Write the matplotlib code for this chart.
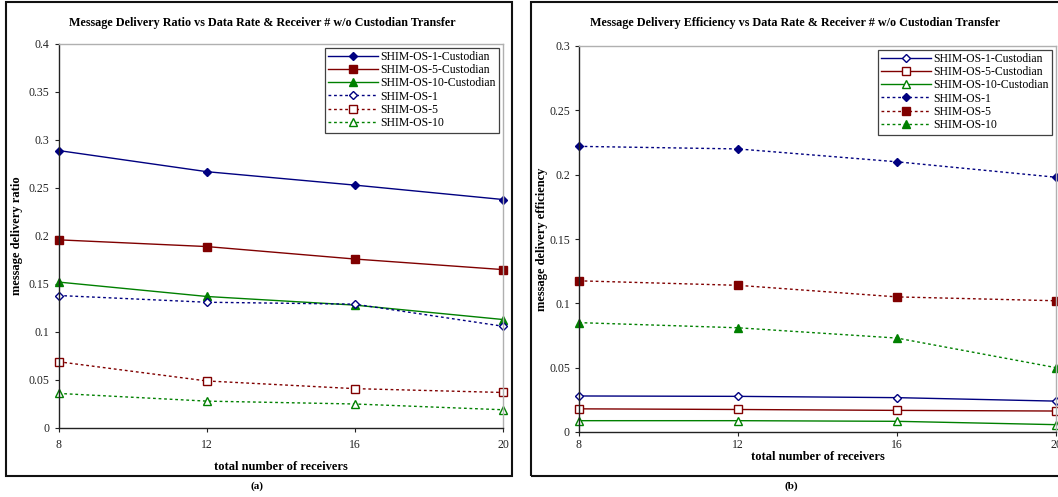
#!/usr/bin/env python3
"""Message delivery ratio / efficiency vs number of receivers (two panels)."""

import matplotlib

matplotlib.use("Agg")
import matplotlib.pyplot as plt
from matplotlib.patches import Rectangle

plt.rcParams["font.family"] = ["Liberation Serif", "DejaVu Serif"]

receivers = [8, 12, 16, 20]

# panel (a): delivery ratio
ratio_os1_cust = [0.289, 0.267, 0.253, 0.238]
ratio_os5_cust = [0.196, 0.189, 0.176, 0.165]
ratio_os10_cust = [0.152, 0.137, 0.128, 0.113]
ratio_os1 = [0.138, 0.131, 0.129, 0.106]
ratio_os5 = [0.069, 0.049, 0.041, 0.037]
ratio_os10 = [0.036, 0.028, 0.025, 0.019]

# panel (b): delivery efficiency
eff_os1_cust = [0.028, 0.0277, 0.0267, 0.024]
eff_os5_cust = [0.018, 0.0175, 0.0168, 0.0163]
eff_os10_cust = [0.0088, 0.0088, 0.0083, 0.0057]
eff_os1 = [0.222, 0.220, 0.210, 0.198]
eff_os5 = [0.1175, 0.114, 0.105, 0.102]
eff_os10 = [0.085, 0.081, 0.073, 0.050]

names = ["SHIM-OS-1-Custodian", "SHIM-OS-5-Custodian", "SHIM-OS-10-Custodian",
         "SHIM-OS-1", "SHIM-OS-5", "SHIM-OS-10"]
colors = ["#000080", "#800000", "#008000"]
markers = ["D", "s", "^"]
msizes = [4.0, 5.5, 6]

W, H = 1058, 497
fig = plt.figure(figsize=(W / 100, H / 100), dpi=100)


def px_axes(x0, x1, ytop, ybot):
    return fig.add_axes([x0 / W, 1 - ybot / H, (x1 - x0) / W, (ybot - ytop) / H])


def frame(x0, x1, ytop, ybot):
    fig.patches.append(Rectangle((x0 / W, 1 - ybot / H), (x1 - x0) / W, (ybot - ytop) / H,
                                 transform=fig.transFigure, fill=False,
                                 edgecolor="#111111", linewidth=1.5))


def style_axes(ax, ymax, ystep, labels):
    ax.set_xlim(8, 20)
    ax.set_ylim(0, ymax)
    ax.set_xticks(receivers)
    ax.set_xticklabels([str(r) for r in receivers], fontsize=8.5)
    n = int(round(ymax / ystep))
    ax.set_yticks([i * ystep for i in range(n + 1)])
    ax.set_yticklabels(labels, fontsize=8.5, color="#222222")
    for s in ("top", "right"):
        ax.spines[s].set_color("#b0b0b0")
        ax.spines[s].set_linewidth(1.0)
    for s in ("left", "bottom"):
        ax.spines[s].set_color("#222222")
        ax.spines[s].set_linewidth(1.0)
    ax.tick_params(axis="both", direction="out", length=3, width=0.8, colors="#222222")


def draw(ax, solid, dotted, solid_filled):
    for i in range(3):
        face = colors[i] if solid_filled else "white"
        ax.plot(receivers, solid[i], color=colors[i], linewidth=1.0, marker=markers[i],
                markersize=msizes[i], markerfacecolor=face, markeredgecolor=colors[i],
                markeredgewidth=1.0, clip_on=False, label=names[i])
    for i in range(3):
        face = "white" if solid_filled else colors[i]
        ax.plot(receivers, dotted[i], color=colors[i], linewidth=1.0, linestyle=(0, (2, 2)),
                marker=markers[i], markersize=msizes[i], markerfacecolor=face,
                markeredgecolor=colors[i], markeredgewidth=1.0, clip_on=False,
                label=names[3 + i])
    leg = ax.legend(loc="upper right", fontsize=8.5, frameon=True, fancybox=False,
                    edgecolor="#111111", borderpad=0.3, labelspacing=0.1,
                    handlelength=4.2, handletextpad=0.2, borderaxespad=0.3)
    leg.get_frame().set_linewidth(0.9)


# panel (a)
frame(6, 512, 2, 476)
ax1 = px_axes(58.7, 503, 44, 428)
draw(ax1, [ratio_os1_cust, ratio_os5_cust, ratio_os10_cust],
     [ratio_os1, ratio_os5, ratio_os10], True)
style_axes(ax1, 0.4, 0.05, ["0", "0.05", "0.1", "0.15", "0.2", "0.25", "0.3", "0.35", "0.4"])
ax1.tick_params(axis="x", pad=5)
fig.text(262 / W, 1 - 23 / H,
         "Message Delivery Ratio vs Data Rate & Receiver # w/o Custodian Transfer",
         ha="center", va="center", fontsize=8.7, fontweight="bold")
ax1.set_xlabel("total number of receivers", fontsize=9, fontweight="bold", labelpad=7)
ax1.set_ylabel("message delivery ratio", fontsize=9, fontweight="bold", labelpad=4)
fig.text(257 / W, 1 - 486 / H, "(a)", ha="center", va="center", fontsize=8, fontweight="bold")

# panel (b)
frame(531, 1075, 2, 476)
ax2 = px_axes(579, 1056, 46, 432)
draw(ax2, [eff_os1_cust, eff_os5_cust, eff_os10_cust],
     [eff_os1, eff_os5, eff_os10], False)
style_axes(ax2, 0.3, 0.05, ["0", "0.05", "0.1", "0.15", "0.2", "0.25", "0.3"])
ax2.tick_params(axis="x", pad=2)
fig.text(795 / W, 1 - 23 / H,
         "Message Delivery Efficiency vs Data Rate & Receiver # w/o Custodian Transfer",
         ha="center", va="center", fontsize=8.7, fontweight="bold")
ax2.set_xlabel("total number of receivers", fontsize=9, fontweight="bold", labelpad=0)
ax2.set_ylabel("message delivery efficiency", fontsize=9, fontweight="bold", labelpad=1)
fig.text(791 / W, 1 - 486 / H, "(b)", ha="center", va="center", fontsize=8, fontweight="bold")

fig.savefig("out.png", dpi=100)
